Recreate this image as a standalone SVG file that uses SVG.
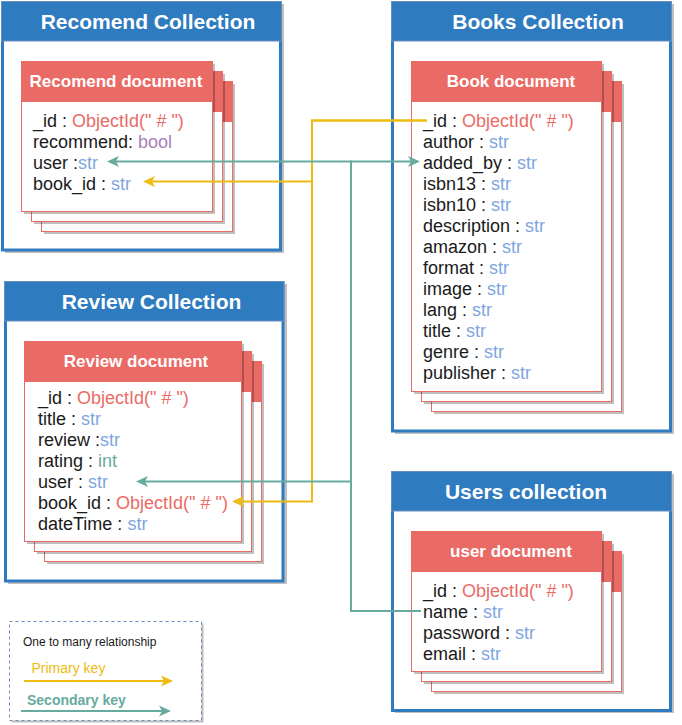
<svg xmlns="http://www.w3.org/2000/svg" width="682" height="725" viewBox="0 0 682 725">
<style>
text{font-family:"Liberation Sans",Arial,Helvetica,sans-serif;}
.cshadow{fill:#000;opacity:.25;}
.cbody{fill:#fff;stroke:#2F7BBF;stroke-width:3;}
.chead{fill:#2F7BBF;stroke:#6C8EBF;stroke-width:1;}
.ctitle{font-size:21px;font-weight:bold;fill:#fff;text-anchor:middle;}
.dshadow{fill:#000;opacity:.25;}
.dbody{fill:#fff;stroke:#EA6B66;stroke-width:1;}
.dhead{fill:#EA6B66;stroke:#EA6B66;stroke-width:1;}
.dtitle{font-size:17px;font-weight:bold;fill:#fff;text-anchor:middle;}
.f{font-size:18px;fill:#1A1A1A;}
.oid{fill:#EA6B66;}
.s{fill:#7EA6E0;}
.b{fill:#A680B8;}
.i{fill:#67AB9F;}
.ey{fill:none;stroke:#EEBB10;stroke-width:2;}
.et{fill:none;stroke:#67AB9F;stroke-width:2;}
</style>
<defs>
<marker id="ay" viewBox="0 0 12 12" refX="3" refY="6" markerWidth="12" markerHeight="12" markerUnits="userSpaceOnUse" orient="auto"><path d="M0,0.5 L12,6 L0,11.5 L3,6 Z" fill="#EEBB10"/></marker>
<marker id="at" viewBox="0 0 12 12" refX="3" refY="6" markerWidth="12" markerHeight="12" markerUnits="userSpaceOnUse" orient="auto"><path d="M0,0.5 L12,6 L0,11.5 L3,6 Z" fill="#67AB9F"/></marker>
</defs>

<!-- Collections -->
<g id="recomend-collection">
<rect class="cshadow" x="5" y="4" width="279" height="249"/>
<rect class="cbody" x="2.5" y="2.5" width="278" height="247.5"/>
<rect class="chead" x="1.5" y="1.5" width="280" height="39.5"/>
<text class="ctitle" x="148" y="29">Recomend Collection</text>
</g>
<g id="books-collection">
<rect class="cshadow" x="395" y="4" width="279" height="430"/>
<rect class="cbody" x="392.5" y="2.5" width="278" height="428.5"/>
<rect class="chead" x="391.5" y="1.5" width="280" height="39.5"/>
<text class="ctitle" x="538" y="29">Books Collection</text>
</g>
<g id="review-collection">
<rect class="cshadow" x="8" y="284" width="279" height="300"/>
<rect class="cbody" x="5.5" y="282.5" width="277.5" height="298.5"/>
<rect class="chead" x="4.5" y="281.5" width="279.5" height="39.5"/>
<text class="ctitle" x="151.5" y="309">Review Collection</text>
</g>
<g id="users-collection">
<rect class="cshadow" x="395" y="474" width="279" height="239"/>
<rect class="cbody" x="392.5" y="472.5" width="278" height="238"/>
<rect class="chead" x="391.5" y="471.5" width="280" height="39.5"/>
<text class="ctitle" x="526" y="499">Users collection</text>
</g>

<!-- Documents -->
<g id="recomend-document">
<rect class="dshadow" x="44" y="84" width="191" height="150"/>
<rect class="dbody" x="41.5" y="81.5" width="191" height="150"/>
<rect class="dhead" x="41.5" y="81.5" width="191" height="40"/>
<rect class="dshadow" x="34" y="74" width="191" height="150"/>
<rect class="dbody" x="31.5" y="71.5" width="191" height="150"/>
<rect class="dhead" x="31.5" y="71.5" width="191" height="40"/>
<rect class="dshadow" x="24" y="64" width="191" height="150"/>
<rect class="dbody" x="21.5" y="61.5" width="191" height="150"/>
<rect class="dhead" x="21.5" y="61.5" width="191" height="40"/>
<text class="dtitle" x="116" y="87">Recomend document</text>
<text class="f" x="33" y="127">_id : <tspan class="oid">ObjectId(" # ")</tspan></text>
<text class="f" x="33" y="148">recommend: <tspan class="b">bool</tspan></text>
<text class="f" x="33" y="169">user :<tspan class="s">str</tspan></text>
<text class="f" x="33" y="190">book_id : <tspan class="s">str</tspan></text>
</g>

<g id="book-document">
<rect class="dshadow" x="434" y="84" width="190" height="330"/>
<rect class="dbody" x="431.5" y="81.5" width="190" height="330"/>
<rect class="dhead" x="431.5" y="81.5" width="190" height="40"/>
<rect class="dshadow" x="424" y="74" width="190" height="330"/>
<rect class="dbody" x="421.5" y="71.5" width="190" height="330"/>
<rect class="dhead" x="421.5" y="71.5" width="190" height="40"/>
<rect class="dshadow" x="414" y="64" width="190" height="330"/>
<rect class="dbody" x="411.5" y="61.5" width="190" height="330"/>
<rect class="dhead" x="411.5" y="61.5" width="190" height="40"/>
<text class="dtitle" x="511" y="87">Book document</text>
<text class="f" x="423" y="127">_id : <tspan class="oid">ObjectId(" # ")</tspan></text>
<text class="f" x="423" y="148">author : <tspan class="s">str</tspan></text>
<text class="f" x="423" y="169">added_by : <tspan class="s">str</tspan></text>
<text class="f" x="423" y="190">isbn13 : <tspan class="s">str</tspan></text>
<text class="f" x="423" y="211">isbn10 : <tspan class="s">str</tspan></text>
<text class="f" x="423" y="232">description : <tspan class="s">str</tspan></text>
<text class="f" x="423" y="253">amazon : <tspan class="s">str</tspan></text>
<text class="f" x="423" y="274">format : <tspan class="s">str</tspan></text>
<text class="f" x="423" y="295">image : <tspan class="s">str</tspan></text>
<text class="f" x="423" y="316">lang : <tspan class="s">str</tspan></text>
<text class="f" x="423" y="337">title : <tspan class="s">str</tspan></text>
<text class="f" x="423" y="358">genre : <tspan class="s">str</tspan></text>
<text class="f" x="423" y="379">publisher : <tspan class="s">str</tspan></text>
</g>

<g id="review-document">
<rect class="dshadow" x="47" y="364" width="217" height="200"/>
<rect class="dbody" x="44.5" y="361.5" width="217" height="200"/>
<rect class="dhead" x="44.5" y="361.5" width="217" height="40"/>
<rect class="dshadow" x="37" y="354" width="217" height="200"/>
<rect class="dbody" x="34.5" y="351.5" width="217" height="200"/>
<rect class="dhead" x="34.5" y="351.5" width="217" height="40"/>
<rect class="dshadow" x="27" y="344" width="217" height="200"/>
<rect class="dbody" x="24.5" y="341.5" width="217" height="200"/>
<rect class="dhead" x="24.5" y="341.5" width="217" height="40"/>
<text class="dtitle" x="136" y="367">Review document</text>
<text class="f" x="38" y="404">_id : <tspan class="oid">ObjectId(" # ")</tspan></text>
<text class="f" x="38" y="425">title : <tspan class="s">str</tspan></text>
<text class="f" x="38" y="446">review :<tspan class="s">str</tspan></text>
<text class="f" x="38" y="467">rating : <tspan class="i">int</tspan></text>
<text class="f" x="38" y="488">user : <tspan class="s">str</tspan></text>
<text class="f" x="38" y="509">book_id : <tspan class="oid">ObjectId(" # ")</tspan></text>
<text class="f" x="38" y="530">dateTime : <tspan class="s">str</tspan></text>
</g>

<g id="user-document">
<rect class="dshadow" x="434" y="554" width="190" height="140"/>
<rect class="dbody" x="431.5" y="551.5" width="190" height="140"/>
<rect class="dhead" x="431.5" y="551.5" width="190" height="40"/>
<rect class="dshadow" x="424" y="544" width="190" height="140"/>
<rect class="dbody" x="421.5" y="541.5" width="190" height="140"/>
<rect class="dhead" x="421.5" y="541.5" width="190" height="40"/>
<rect class="dshadow" x="414" y="534" width="190" height="140"/>
<rect class="dbody" x="411.5" y="531.5" width="190" height="140"/>
<rect class="dhead" x="411.5" y="531.5" width="190" height="40"/>
<text class="dtitle" x="511" y="557">user document</text>
<text class="f" x="423" y="597">_id : <tspan class="oid">ObjectId(" # ")</tspan></text>
<text class="f" x="423" y="618">name : <tspan class="s">str</tspan></text>
<text class="f" x="423" y="639">password : <tspan class="s">str</tspan></text>
<text class="f" x="423" y="660">email : <tspan class="s">str</tspan></text>
</g>

<!-- Legend -->
<g id="legend">
<rect x="11.5" y="623.5" width="192" height="99" fill="#000" opacity=".25"/>
<rect x="9.5" y="621.5" width="192" height="99" fill="#fff" stroke="#6C8EBF" stroke-width="1" stroke-dasharray="3,3"/>
<text x="23" y="646" font-size="12" fill="#1A1A1A">One to many relationship</text>
<text x="31.5" y="673" font-size="14" fill="#EEBB10">Primary key</text>
<path class="ey" d="M24,681 H164" marker-end="url(#ay)"/>
<text x="27" y="705" font-size="14" font-weight="bold" fill="#67AB9F">Secondary key</text>
<path class="et" d="M21,711 H162" marker-end="url(#at)"/>
</g>

<!-- Connectors -->
<g id="connectors">
<path class="ey" d="M427,120.5 H312 V181.5 H152" marker-end="url(#ay)"/>
<path class="ey" d="M427,120.5 H312 V501.5 H241" marker-end="url(#ay)"/>
<path class="et" d="M421,611 H351 V161.5 H411" marker-end="url(#at)"/>
<path class="et" d="M421,611 H351 V161.5 H116" marker-end="url(#at)"/>
<path class="et" d="M421,611 H351 V481.5 H145" marker-end="url(#at)"/>
</g>
</svg>
